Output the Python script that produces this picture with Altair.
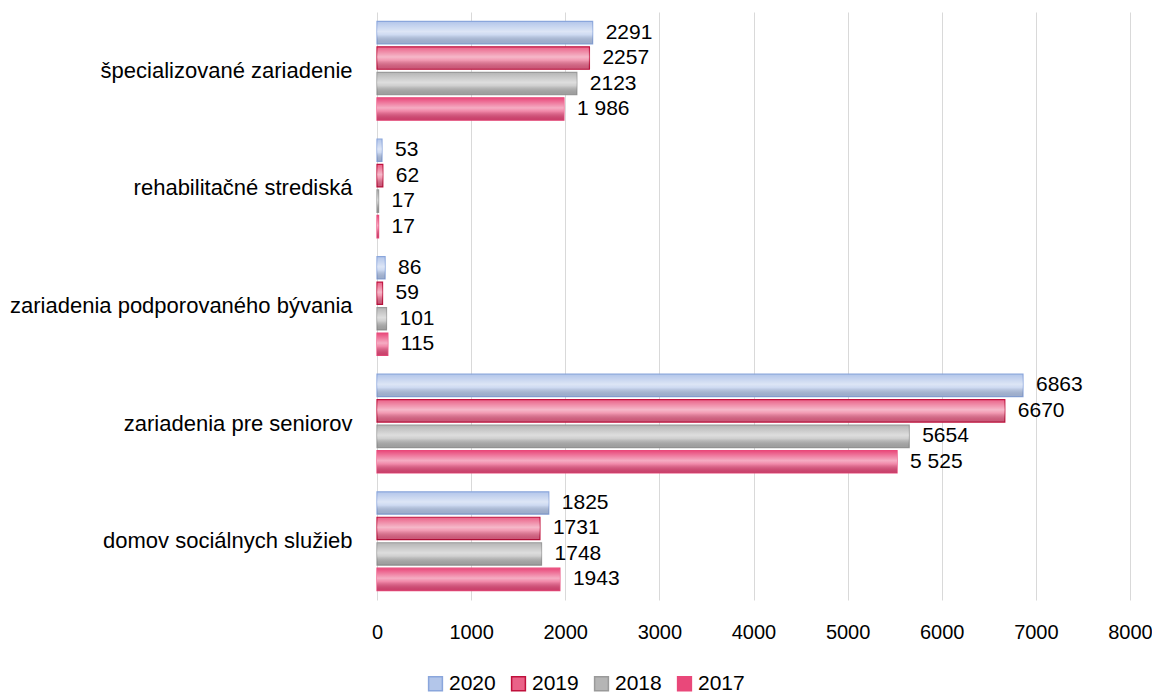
import altair as alt
import pandas as pd

categories = [
    "špecializované zariadenie",
    "rehabilitačné strediská",
    "zariadenia podporovaného bývania",
    "zariadenia pre seniorov",
    "domov sociálnych služieb",
]
years = ["2020", "2019", "2018", "2017"]
v2020 = [2291, 53, 86, 6863, 1825]
v2019 = [2257, 62, 59, 6670, 1731]
v2018 = [2123, 17, 101, 5654, 1748]
v2017 = [1986, 17, 115, 5525, 1943]
labels2020 = ["2291", "53", "86", "6863", "1825"]
labels2019 = ["2257", "62", "59", "6670", "1731"]
labels2018 = ["2123", "17", "101", "5654", "1748"]
labels2017 = ["1 986", "17", "115", "5 525", "1943"]

fills = ["#b3c6ea", "#ea6288", "#b5b5b5", "#e9487a"]
strokes = ["#8aa6dc", "#c0103c", "#9a9a9a", "#e9487a"]

rows = []
for y, vals, labs in zip(years, [v2020, v2019, v2018, v2017],
                         [labels2020, labels2019, labels2018, labels2017]):
    for c, v, l in zip(categories, vals, labs):
        rows.append({"cat": c, "year": y, "value": v, "label": l})
df = pd.DataFrame(rows)

FONT = "Liberation Sans"

yenc = alt.Y("cat:N", sort=categories, title=None,
             scale=alt.Scale(paddingInner=0.16, paddingOuter=0.08),
             axis=alt.Axis(labelFontSize=22, labelFont=FONT, labelColor="#000",
                           ticks=False, domain=False, labelPadding=25,
                           labelLimit=400))
yoff = alt.YOffset("year:N", sort=years, scale=alt.Scale(paddingInner=0.12))
xenc = alt.X("value:Q", scale=alt.Scale(domain=[0, 8000]), title=None,
             axis=alt.Axis(values=list(range(0, 8001, 1000)), format="d",
                           labelFontSize=20, labelFont=FONT,
                           labelColor="#000", ticks=False, domain=False,
                           labelPadding=22, gridColor="#d9d9d9",
                           labelFlush=False))

base = alt.Chart(df)

bars = base.mark_bar(strokeWidth=1.2).encode(
    x=xenc, y=yenc, yOffset=yoff,
    fill=alt.Fill("year:N", sort=years, title=None,
                  scale=alt.Scale(domain=years, range=fills),
                  legend=alt.Legend(orient="none", direction="horizontal",
                                    legendX=48, legendY=661,
                                    symbolType="square", symbolSize=190,
                                    symbolStrokeWidth=1.5,
                                    labelFontSize=21, labelFont=FONT,
                                    labelColor="#000", columnPadding=12,
                                    labelOffset=3, symbolOffset=0)),
    stroke=alt.Stroke("year:N", sort=years,
                      scale=alt.Scale(domain=years, range=strokes),
                      legend=None),
)

shine = base.mark_bar(
    fill=alt.Gradient(
        gradient="linear", x1=0, y1=0, x2=0, y2=1,
        stops=[
            alt.GradientStop(offset=0, color="rgba(255,255,255,0)"),
            alt.GradientStop(offset=0.45, color="rgba(255,255,255,0.55)"),
            alt.GradientStop(offset=0.6, color="rgba(255,255,255,0.35)"),
            alt.GradientStop(offset=1, color="rgba(0,0,0,0.12)"),
        ],
    )
).encode(x="value:Q", y=alt.Y("cat:N", sort=categories), yOffset=yoff)

text = base.mark_text(align="left", baseline="middle", dx=13, fontSize=21,
                      font=FONT, color="#000").encode(
    x="value:Q", y=alt.Y("cat:N", sort=categories), yOffset=yoff,
    text="label:N")

chart = alt.layer(bars, shine, text).properties(
    width=753, height=588,
    autosize=alt.AutoSizeParams(type="none"),
    padding={"left": 369, "top": 4, "right": 22, "bottom": 100},
).configure_view(stroke=None).configure_axisY(grid=False)

chart.save("out.html", embed_options={"renderer": "svg", "actions": False})
